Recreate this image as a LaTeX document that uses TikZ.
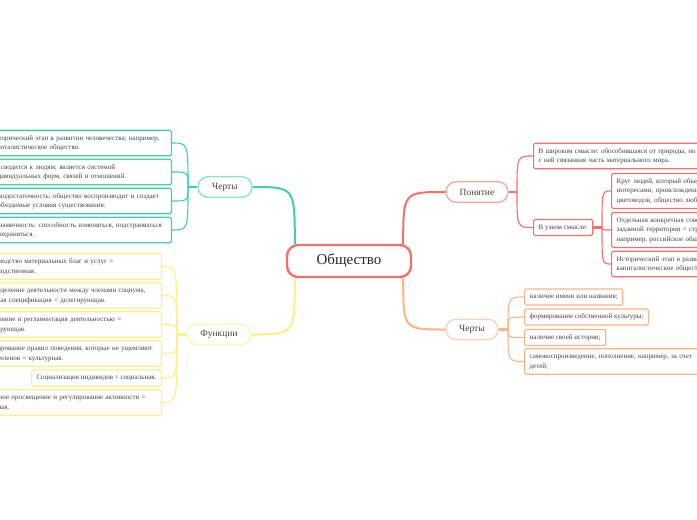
\documentclass[tikz,border=0pt]{standalone}
\usepackage{fontspec}
\setmainfont{Liberation Serif}
\definecolor{redbr}{HTML}{F5706A}
\definecolor{greenbr}{HTML}{3FD49E}
\definecolor{yellowbr}{HTML}{FFEF85}
\definecolor{orangebr}{HTML}{FFB486}
\definecolor{txt}{HTML}{444444}

\begin{document}
\begin{tikzpicture}[x=1pt, y=-1pt,
  root/.style={draw=redbr, line width=2.4pt, rounded corners=11pt, fill=white,
    minimum width=124pt, minimum height=32pt, font=\fontsize{15}{18}\selectfont, text=black!85},
  branch/.style={draw=#1!60, line width=1.4pt, rounded corners=10pt, fill=white,
    minimum height=20.5pt, font=\fontsize{9.5}{11}\selectfont, text=txt},
  leaf/.style={draw=#1, line width=1.2pt, rounded corners=1.5pt, fill=white,
    inner xsep=5pt, inner ysep=3.25pt, align=left,
    font=\fontsize{7}{9.5}\selectfont\frenchspacing,
    text=txt, execute at begin node=\strut, execute at end node=\strut},
  link/.style={draw=#1, line width=1.1pt},
  stem/.style={draw=#1, line width=2.6pt},
  trunk/.style={draw=#1, line width=2pt}]
\useasboundingbox (0,0) rectangle (697,520);
\clip (0,0) rectangle (697,520);
\fill[white] (0,0) rectangle (697,520);

% centre
\node[root] (obsh) at (349,261) {Общество};
\coordinate (gin) at ([xshift=9pt]obsh.north west);
\coordinate (yin) at ([xshift=9pt]obsh.south west);
\coordinate (rin) at ([xshift=-9pt]obsh.north east);
\coordinate (oin) at ([xshift=-9pt]obsh.south east);

% Черты (left, green)
\node[branch=greenbr, minimum width=54pt] (chertyL) at (225,187) {Черты};
\coordinate (gfork) at (188,187);
\node[leaf=greenbr, text width=176pt, anchor=east] (g1) at (172,143)
  {Исторический этап в развитии человечества; например,\\капиталистическое общество.};
\node[leaf=greenbr, text width=176pt, anchor=east] (g2) at (172,172)
  {Не сводится к людям; является системой\\индивидуальных форм, связей и отношений.};
\node[leaf=greenbr, text width=176pt, anchor=east] (g3) at (172,201)
  {Самодостаточность: общество воспроизводит и создает\\необходимые условия существования.};
\node[leaf=greenbr, text width=176pt, anchor=east] (g4) at (172,230)
  {Динамичность: способность изменяться, подстраиваться\\и сохраняться.};
\draw[trunk=greenbr] (chertyL.east) .. controls (gin |- chertyL.east) .. (gin);
\draw[stem=greenbr] (chertyL.west) -- (gfork);
\foreach \leaf in {g1,g2,g3,g4}
  \draw[link=greenbr] (gfork) .. controls (gfork |- \leaf.east) .. (\leaf.east);

% Функции (yellow)
\node[branch=yellowbr, minimum width=64pt] (funkc) at (219,334.5) {Функции};
\coordinate (yfork) at (177,334.5);
\node[leaf=yellowbr, text width=176pt, anchor=east] (y1) at (162,266.5)
  {Производство материальных благ и услуг =\\производственная.};
\node[leaf=yellowbr, text width=176pt, anchor=east] (y2) at (162,295.5)
  {Распределение деятельности между членами социума,\\трудовая спецификация = делегирующая.};
\node[leaf=yellowbr, text width=176pt, anchor=east] (y3) at (162,324.5)
  {Управление и регламентация деятельностью =\\регулирующая.};
\node[leaf=yellowbr, text width=176pt, anchor=east] (y4) at (162,353.5)
  {Формирование правил поведения, которые не ущемляют\\права членов = культурная.};
\node[leaf=yellowbr, anchor=east] (y5) at (162,378)
  {Социализация индивидов = социальная.};
\node[leaf=yellowbr, text width=176pt, anchor=east] (y6) at (162,402.5)
  {Духовное просвещение и регулирование активности =\\духовная.};
\draw[trunk=yellowbr] (funkc.east) .. controls (yin |- funkc.east) .. (yin);
\draw[stem=yellowbr] (funkc.west) -- (yfork);
\foreach \leaf in {y1,y2,y3,y4,y5,y6}
  \draw[link=yellowbr] (yfork) .. controls (yfork |- \leaf.east) .. (\leaf.east);

% Понятие (red)
\node[branch=redbr, minimum width=62pt] (ponyat) at (477,192) {Понятие};
\coordinate (rfork) at (517,192);
\node[leaf=redbr, text width=200pt, anchor=west] (r1) at (533,156)
  {В широком смысле: обособившаяся от природы, но тесно\\с ней связанная часть материального мира.};
\node[leaf=redbr, anchor=west] (r2) at (533,227.5) {В узком смысле:};
\coordinate (rfork2) at (602,227.5);
\node[leaf=redbr, text width=160pt, anchor=west] (r3) at (611,191)
  {Круг людей, который объединен общими\\интересами, происхождением: общество\\цветоводов, общество любителей книг.};
\node[leaf=redbr, text width=160pt, anchor=west] (r4) at (611,230)
  {Отдельная конкретная совокупность людей\\заданной территории = страна,\\например, российское общество.};
\node[leaf=redbr, text width=160pt, anchor=west] (r5) at (611,264)
  {Исторический этап в развитии человечества,\\капиталистическое общество.};
\draw[trunk=redbr] (ponyat.west) .. controls (rin |- ponyat.west) .. (rin);
\draw[stem=redbr] (ponyat.east) -- (rfork);
\foreach \leaf in {r1,r2}
  \draw[link=redbr] (rfork) .. controls (rfork |- \leaf.west) .. (\leaf.west);
\draw[stem=redbr] (r2.east) -- (rfork2);
\foreach \leaf in {r3,r4,r5}
  \draw[link=redbr] (rfork2) .. controls (rfork2 |- \leaf.west) .. (\leaf.west);

% Черты (right, orange)
\node[branch=orangebr, minimum width=52pt] (chertyR) at (472,329.5) {Черты};
\coordinate (ofork) at (508,329.5);
\node[leaf=orangebr, anchor=west] (o1) at (524,297) {наличие имени или названия;};
\node[leaf=orangebr, anchor=west] (o2) at (524,317) {формирование собственной культуры;};
\node[leaf=orangebr, anchor=west] (o3) at (524,337.5) {наличие своей истории;};
\node[leaf=orangebr, text width=165pt, anchor=west] (o4) at (524,361.5)
  {самовоспроизведение, пополнение, например, за счет\\детей;};
\draw[trunk=orangebr] (chertyR.west) .. controls (oin |- chertyR.west) .. (oin);
\draw[stem=orangebr] (chertyR.east) -- (ofork);
\foreach \leaf in {o1,o2,o3,o4}
  \draw[link=orangebr] (ofork) .. controls (ofork |- \leaf.west) .. (\leaf.west);
\end{tikzpicture}
\end{document}
